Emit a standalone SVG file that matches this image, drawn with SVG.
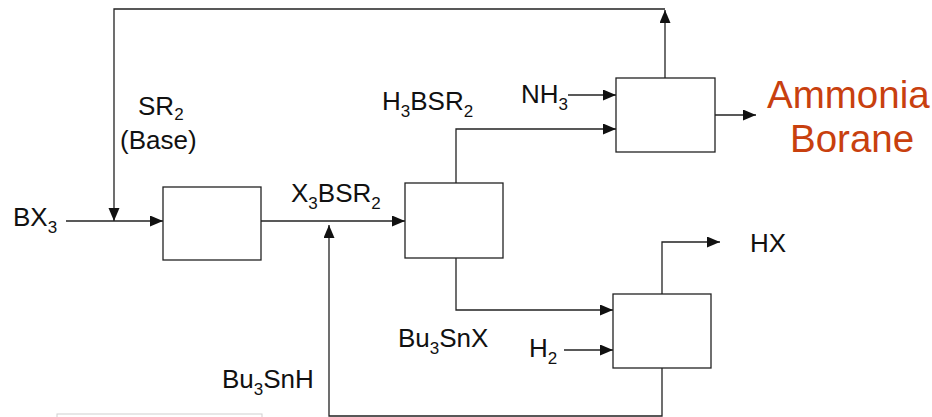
<svg xmlns="http://www.w3.org/2000/svg" width="932" height="417" viewBox="0 0 932 417">
<style>
.box{fill:#fff;stroke:#222;stroke-width:1.3}
.ln{fill:none;stroke:#222;stroke-width:1.3}
.lbl{font-family:"Liberation Sans",Arial,sans-serif;font-size:26px;fill:#111}
.sub{font-size:17px}
.prod{font-family:"Liberation Sans",Arial,sans-serif;font-size:38.5px;fill:#C8400E}
</style>
<defs>
<marker id="arr" markerUnits="userSpaceOnUse" markerWidth="14" markerHeight="12" refX="13" refY="5.5" orient="auto">
<path d="M0,0 L13,5.5 L0,11 z" fill="#111"/>
</marker>
</defs>
<rect x="57" y="414" width="205" height="10" fill="none" stroke="#cfcfcf" stroke-width="1"/>
<g id="connectors">
<path class="ln" d="M66,221 H163" marker-end="url(#arr)"/>
<path class="ln" d="M665,78 V10" marker-end="url(#arr)"/>
<path class="ln" d="M665,9 H114 V221" marker-end="url(#arr)"/>
<path class="ln" d="M261,221 H405" marker-end="url(#arr)"/>
<path class="ln" d="M662,368 V416 H329 V225" marker-end="url(#arr)"/>
<path class="ln" d="M456,183 V129 H616" marker-end="url(#arr)"/>
<path class="ln" d="M568,95 H616" marker-end="url(#arr)"/>
<path class="ln" d="M715,115 H756" marker-end="url(#arr)"/>
<path class="ln" d="M456,258 V310 H613" marker-end="url(#arr)"/>
<path class="ln" d="M564,350 H613" marker-end="url(#arr)"/>
<path class="ln" d="M662,294 V242 H720" marker-end="url(#arr)"/>
</g>
<g id="box1"><rect class="box" x="163" y="187" width="98" height="73"/></g>
<g id="box2"><rect class="box" x="405" y="183" width="98" height="75"/></g>
<g id="box3"><rect class="box" x="616" y="78" width="99" height="74"/></g>
<g id="box4"><rect class="box" x="613" y="294" width="98" height="74"/></g>
<g id="labels">
<text class="lbl" x="138" y="115">SR<tspan class="sub" dy="5">2</tspan></text>
<text class="lbl" x="120" y="149">(Base)</text>
<text class="lbl" x="382" y="110">H<tspan class="sub" dy="7">3</tspan><tspan dy="-7">BSR</tspan><tspan class="sub" dy="7">2</tspan></text>
<text class="lbl" x="291" y="202">X<tspan class="sub" dy="7">3</tspan><tspan dy="-7">BSR</tspan><tspan class="sub" dy="7">2</tspan></text>
<text class="lbl" x="13" y="226">BX<tspan class="sub" dy="7">3</tspan></text>
<text class="lbl" x="521" y="103">NH<tspan class="sub" dy="7">3</tspan></text>
<text class="lbl" x="750" y="252">HX</text>
<text class="lbl" x="398" y="347">Bu<tspan class="sub" dy="7">3</tspan><tspan dy="-7">SnX</tspan></text>
<text class="lbl" x="529" y="357">H<tspan class="sub" dy="7">2</tspan></text>
<text class="lbl" x="222" y="388">Bu<tspan class="sub" dy="7">3</tspan><tspan dy="-7">SnH</tspan></text>
<text class="prod" x="767" y="108">Ammonia</text>
<text class="prod" x="790" y="152">Borane</text>
</g>
</svg>
